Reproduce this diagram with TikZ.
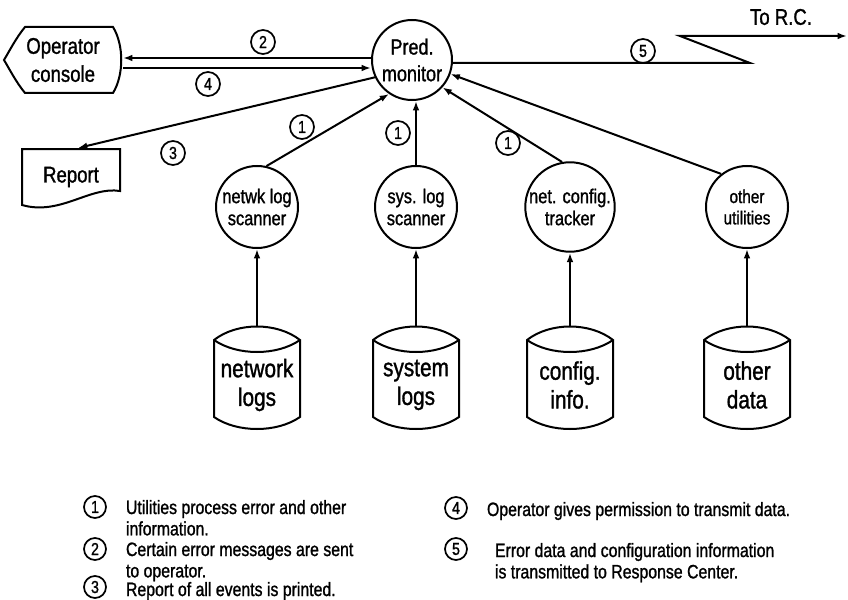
\documentclass[tikz,border=0pt]{standalone}
\usepackage{fontspec}
\setmainfont{Liberation Sans}[FakeStretch=0.82,FakeBold=1.2]
\usetikzlibrary{arrows.meta}
\newcommand{\cylshape}[2]{%
  \draw (#2-43,340) .. controls (#2-20,322) and (#2+20,322) .. (#2+43,340)
        -- (#2+43,417) .. controls (#2+20,433) and (#2-20,433) .. (#2-43,417) -- cycle;
  \draw (#2-43,340) .. controls (#2-20,356) and (#2+20,356) .. (#2+43,340);
  \node[cylnode] (#1) at (#2,385) {};}
\begin{document}
\begin{tikzpicture}[x=0.75pt,y=-0.75pt,line width=1.5pt,
  >={Latex[length=7pt,width=5pt]},
  proc/.style={circle,draw,minimum size=61.5pt,inner sep=0pt,align=center,
    font=\fontsize{15}{16.5}\selectfont},
  mon/.style={circle,draw,minimum size=60pt,inner sep=0pt,align=center,
    font=\fontsize{16.5}{20}\selectfont},
  num/.style={circle,draw,line width=1.3pt,minimum size=18pt,inner sep=0pt,
    font=\fontsize{13}{13}\selectfont},
  lnum/.style={num,minimum size=16.5pt},
  cylnode/.style={draw=none,minimum width=64.5pt,minimum height=85.5pt,inner sep=0pt},
  cyltext/.style={align=center,font=\fontsize{19}{21.5}\selectfont},
  big/.style={align=center,font=\fontsize{17}{21}\selectfont},
  leg/.style={anchor=north west,inner sep=0pt,align=left,
    font=\fontsize{14.5}{16}\selectfont}]
\useasboundingbox (0,0) rectangle (848,599);

% Operator console
\draw (25,27) -- (113,27) .. controls (124,45) and (124,75) .. (113,93) -- (25,93)
  .. controls (16,82) and (10,70) .. (4,60) .. controls (10,50) and (16,38) .. (25,27) -- cycle;
\node[big,draw=none,minimum width=88.5pt,minimum height=49.5pt,inner sep=0pt] (OC) at (63,60) {Operator\\console};

% Pred. monitor
\node[mon] (M) at (412,60) {Pred.\\monitor};

% Report
\draw (22,149) -- (120,149) -- (120,191) .. controls (90,186) and (60,216) .. (22,205) -- cycle;
\node[big,draw=none,minimum width=73.5pt,minimum height=42pt,inner sep=0pt] (R) at (71,177) {Report};

% scanners
\node[proc] (S1) at (257,207) {netwk log\\scanner};
\node[proc] (S2) at (416,207) {sys. log\\scanner};
\node[proc] (S3) at (570,207) {net. config.\\tracker};
\node[proc,font=\fontsize{14}{16}\selectfont] (S4) at (747,207) {other\\utilities};

% cylinders
\cylshape{C1}{257}
\cylshape{C2}{416}
\cylshape{C3}{570}
\cylshape{C4}{747}
\node[cyltext] at (C1) {network\\logs};
\node[cyltext] at (C2) {system\\logs};
\node[cyltext] at (C3) {config.\\info.};
\node[cyltext] at (C4) {other\\data};

% connectors
\draw[<-] ([yshift=1.5pt]OC.east) -- ([yshift=1.5pt]M.west);
\draw[->] ([yshift=-6pt]OC.east) -- ([yshift=-6pt]M.west);
\draw[->] (M.205) -- ([xshift=5.25pt]R.north);
\draw[->] (S1.77) -- (M.236);
\draw[->] (S2.north) -- (S2.north |- M.south);
\draw[->] (S3.100) -- (M.318);
\draw[->] (S4.128) -- (M.340);
\foreach \i in {1,2,3,4} {\draw[->] (C\i.north) -- (S\i.south);}

% link to R.C.
\coordinate (Z1) at (750,63);
\coordinate (Z2) at (680,36);
\coordinate (RC) at (847,36);
\draw[->] ([yshift=-2.25pt]M.east) -- (Z1) -- (Z2) -- (RC);
\node[big] (TRC) at (781,17) {To R.C.};

% number labels
\node[num] (n2) at (263,42) {2};
\node[num] (n4) at (208,84) {4};
\node[num] (n3) at (173,153) {3};
\node[num] (n5) at (643,51) {5};
\node[num] (n1a) at (302,127) {1};
\node[num] (n1b) at (398,133) {1};
\node[num] (n1c) at (508,143) {1};

% legend
\node[lnum] (L1) at (95,507) {1};
\node[leg] (T1) at (125,499) {Utilities process error and other\\information.};
\node[lnum] (L2) at (95,549) {2};
\node[leg] (T2) at (125,541) {Certain error messages are sent\\to operator.};
\node[lnum] (L3) at (95,587) {3};
\node[leg] (T3) at (125,581) {Report of all events is printed.};
\node[lnum] (L4) at (456,508) {4};
\node[leg] (T4) at (486,501) {Operator gives permission to transmit data.};
\node[lnum] (L5) at (456,549) {5};
\node[leg] (T5) at (494,542) {Error data and configuration information\\is transmitted to Response Center.};
\end{tikzpicture}
\end{document}
